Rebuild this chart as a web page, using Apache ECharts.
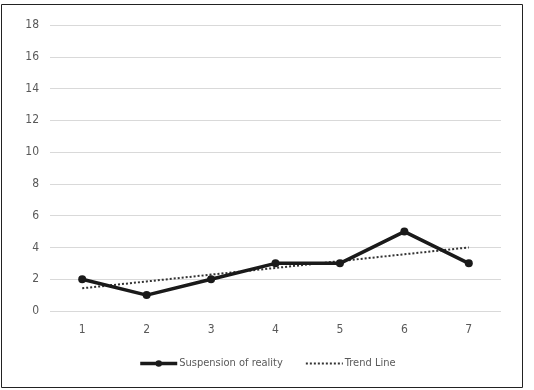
<!DOCTYPE html>
<html>
<head>
<meta charset="utf-8">
<script src="https://cdn.jsdelivr.net/npm/echarts@6/dist/echarts.min.js"></script>
<style>
  html, body { margin: 0; padding: 0; background: #fff; }
  #chart { width: 534px; height: 390px; }
</style>
</head>
<body>
<div id="chart"></div>
<script>
// Categories and series values
const categories = ['1', '2', '3', '4', '5', '6', '7'];
const suspensionValues = [2, 1, 2, 3, 3, 5, 3];
const trendValues = [1.43, 1.86, 2.29, 2.71, 3.14, 3.57, 4.0];
const yTicks = [0, 2, 4, 6, 8, 10, 12, 14, 16, 18];

const fontFamily = '"DejaVu Sans Condensed", "Liberation Sans Narrow", "Open Sans", sans-serif';
const textColor = '#595959';

const chart = echarts.init(document.getElementById('chart'), null, { renderer: 'canvas' });

chart.setOption({
  animation: false,
  backgroundColor: '#fff',
  textStyle: { fontFamily: fontFamily },
  graphic: [{
    type: 'rect',
    shape: { x: 1.5, y: 4.5, width: 521, height: 383 },
    style: { fill: 'none', stroke: '#222', lineWidth: 1 },
    silent: true
  }],
  grid: { left: 50, right: 33, top: 25, bottom: 79, containLabel: false },
  legend: {
    bottom: 16,
    left: 'center',
    itemWidth: 37,
    itemHeight: 8,
    itemGap: 22,
    textStyle: { color: textColor, fontSize: 11, fontFamily: fontFamily, padding: [0, 0, 0, -3] },
    data: [
      { name: 'Suspension of reality', lineStyle: { width: 3.5 } },
      { name: 'Trend Line', itemStyle: { opacity: 0 }, lineStyle: { width: 2 } }
    ]
  },
  xAxis: {
    type: 'category',
    data: categories,
    boundaryGap: true,
    axisLine: { show: false },
    axisTick: { show: false },
    axisLabel: { color: textColor, fontSize: 12, margin: 13, fontFamily: fontFamily }
  },
  yAxis: {
    type: 'value',
    min: yTicks[0],
    max: yTicks[yTicks.length - 1],
    interval: 2,
    axisLine: { show: false },
    axisTick: { show: false },
    axisLabel: { color: textColor, fontSize: 12, margin: 11, fontFamily: fontFamily },
    splitLine: { lineStyle: { color: '#d9d9d9', width: 1 } }
  },
  series: [
    {
      name: 'Suspension of reality',
      type: 'line',
      data: suspensionValues,
      symbol: 'circle',
      symbolSize: 8,
      lineStyle: { color: '#1a1a1a', width: 3.5 },
      itemStyle: { color: '#1a1a1a' },
      z: 3
    },
    {
      name: 'Trend Line',
      type: 'line',
      data: trendValues,
      symbol: 'none',
      lineStyle: { color: '#333', width: 2, type: [2, 2] },
      itemStyle: { color: '#333' },
      z: 2
    }
  ]
});
</script>
</body>
</html>
